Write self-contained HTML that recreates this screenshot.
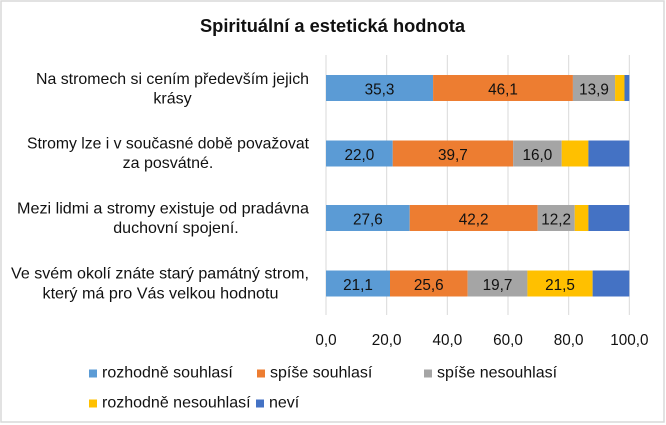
<!DOCTYPE html>
<html>
<head>
<meta charset="utf-8">
<style>
  html, body { margin: 0; padding: 0; background: #fff; }
  svg { display: block; }
  text { font-family: "Liberation Sans", "DejaVu Sans", sans-serif; fill: #111; }
</style>
</head>
<body>
<svg width="666" height="425" viewBox="0 0 666 425" xmlns="http://www.w3.org/2000/svg">
  <rect x="0" y="0" width="666" height="425" fill="#fff"/>
  <rect x="1" y="1" width="663" height="421" fill="#fff" stroke="#d9d9d9" stroke-width="1.5"/>

  <!-- Title -->
  <text x="332.5" y="32" font-size="18" font-weight="bold" text-anchor="middle" textLength="265" lengthAdjust="spacingAndGlyphs">Spirituální a estetická hodnota</text>

  <!-- Gridlines -->
  <g stroke="#d9d9d9" stroke-width="1">
    <line x1="326" y1="55" x2="326" y2="315"/>
    <line x1="386.67" y1="55" x2="386.67" y2="315"/>
    <line x1="447.33" y1="55" x2="447.33" y2="315"/>
    <line x1="508" y1="55" x2="508" y2="315"/>
    <line x1="568.67" y1="55" x2="568.67" y2="315"/>
    <line x1="629.33" y1="55" x2="629.33" y2="315"/>
  </g>

  <!-- Bar 1 -->
  <g>
    <rect x="326" y="75" width="107.08" height="26" fill="#5b9bd5"/>
    <rect x="433.08" y="75" width="139.84" height="26" fill="#ed7d31"/>
    <rect x="572.92" y="75" width="42.16" height="26" fill="#a5a5a5"/>
    <rect x="615.08" y="75" width="9.4" height="26" fill="#ffc000"/>
    <rect x="624.48" y="75" width="4.85" height="26" fill="#4472c4"/>
  </g>
  <!-- Bar 2 -->
  <g>
    <rect x="326" y="140.5" width="66.73" height="26" fill="#5b9bd5"/>
    <rect x="392.73" y="140.5" width="120.43" height="26" fill="#ed7d31"/>
    <rect x="513.16" y="140.5" width="48.53" height="26" fill="#a5a5a5"/>
    <rect x="561.69" y="140.5" width="26.7" height="26" fill="#ffc000"/>
    <rect x="588.39" y="140.5" width="40.94" height="26" fill="#4472c4"/>
  </g>
  <!-- Bar 3 -->
  <g>
    <rect x="326" y="205" width="83.72" height="26" fill="#5b9bd5"/>
    <rect x="409.72" y="205" width="128.01" height="26" fill="#ed7d31"/>
    <rect x="537.73" y="205" width="37.01" height="26" fill="#a5a5a5"/>
    <rect x="574.74" y="205" width="13.65" height="26" fill="#ffc000"/>
    <rect x="588.39" y="205" width="40.94" height="26" fill="#4472c4"/>
  </g>
  <!-- Bar 4 -->
  <g>
    <rect x="326" y="270.5" width="64" height="26" fill="#5b9bd5"/>
    <rect x="390" y="270.5" width="77.65" height="26" fill="#ed7d31"/>
    <rect x="467.65" y="270.5" width="59.76" height="26" fill="#a5a5a5"/>
    <rect x="527.41" y="270.5" width="65.22" height="26" fill="#ffc000"/>
    <rect x="592.63" y="270.5" width="36.7" height="26" fill="#4472c4"/>
  </g>

  <!-- Data labels -->
  <g font-size="15.3" text-anchor="middle">
    <text x="379.5" y="94.5">35,3</text>
    <text x="503" y="94.5">46,1</text>
    <text x="594" y="94.5">13,9</text>

    <text x="359.4" y="160">22,0</text>
    <text x="452.9" y="160">39,7</text>
    <text x="537.4" y="160">16,0</text>

    <text x="367.9" y="224.5">27,6</text>
    <text x="473.7" y="224.5">42,2</text>
    <text x="556.2" y="224.5">12,2</text>

    <text x="358" y="290">21,1</text>
    <text x="428.8" y="290">25,6</text>
    <text x="497.5" y="290">19,7</text>
    <text x="560" y="290">21,5</text>
  </g>

  <!-- Category labels -->
  <g font-size="16" text-anchor="middle">
    <text x="172.5" y="84" textLength="273" lengthAdjust="spacingAndGlyphs">Na stromech si cením především jejich</text>
    <text x="172.5" y="103.5">krásy</text>

    <text x="168" y="148.5" textLength="282" lengthAdjust="spacingAndGlyphs">Stromy lze i v současné době považovat</text>
    <text x="168" y="168">za posvátné.</text>

    <text x="163" y="213.5" textLength="292" lengthAdjust="spacingAndGlyphs">Mezi lidmi a stromy existuje od pradávna</text>
    <text x="176" y="233">duchovní spojení.</text>

    <text x="160" y="278.5" textLength="298" lengthAdjust="spacingAndGlyphs">Ve svém okolí znáte starý památný strom,</text>
    <text x="160.5" y="298.3" textLength="236" lengthAdjust="spacingAndGlyphs">který má pro Vás velkou hodnotu</text>
  </g>

  <!-- X axis tick labels -->
  <g font-size="15.3" text-anchor="middle">
    <text x="326" y="345">0,0</text>
    <text x="386.67" y="345">20,0</text>
    <text x="447.33" y="345">40,0</text>
    <text x="508" y="345">60,0</text>
    <text x="568.67" y="345">80,0</text>
    <text x="629.33" y="345">100,0</text>
  </g>

  <!-- Legend -->
  <g font-size="16">
    <rect x="89" y="369.5" width="8" height="8" fill="#5b9bd5"/>
    <text x="102" y="377.5">rozhodně souhlasí</text>

    <rect x="257" y="369.5" width="8" height="8" fill="#ed7d31"/>
    <text x="270" y="377.5">spíše souhlasí</text>

    <rect x="424" y="369.5" width="8" height="8" fill="#a5a5a5"/>
    <text x="437" y="377.5">spíše nesouhlasí</text>

    <rect x="89" y="399.5" width="8" height="8" fill="#ffc000"/>
    <text x="102" y="407.5">rozhodně nesouhlasí</text>

    <rect x="256" y="399.5" width="8" height="8" fill="#4472c4"/>
    <text x="269" y="407.5">neví</text>
  </g>
</svg>
</body>
</html>
